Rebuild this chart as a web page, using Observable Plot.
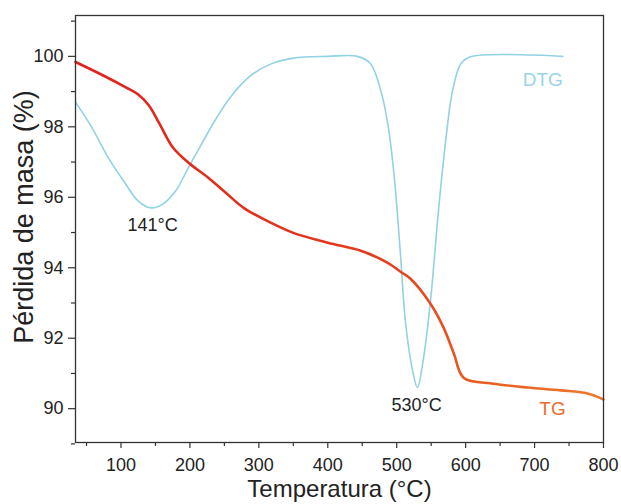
<!DOCTYPE html>
<html>
<head>
<meta charset="utf-8">
<script src="https://cdn.jsdelivr.net/npm/d3@7"></script>
<script src="https://cdn.jsdelivr.net/npm/@observablehq/plot@0.6"></script>
<style>
  html, body { margin: 0; padding: 0; background: #fff; }
</style>
</head>
<body>
<div id="chart"></div>
<script>
// TG curve (mass loss, %)
const tgTemp = [34, 75, 107, 124, 140, 155, 175, 198, 227, 252, 278, 317, 350, 400, 448, 487, 506, 520, 549, 568, 583, 597, 641, 690, 738, 777, 800];
const tgMass = [99.84, 99.45, 99.12, 98.93, 98.62, 98.12, 97.42, 96.98, 96.55, 96.13, 95.70, 95.28, 94.99, 94.71, 94.48, 94.14, 93.88, 93.69, 92.98, 92.30, 91.56, 90.88, 90.71, 90.60, 90.52, 90.43, 90.26];

// DTG curve (drawn in the same plotting frame)
const dtgTemp = [34, 58, 82, 107, 125, 143, 160, 179, 198, 218, 237, 259, 288, 317, 350, 400, 443, 462, 477, 487, 496, 505, 513, 523, 530, 539, 549, 561, 571, 581, 593, 607, 741];
const dtgValue = [98.7, 97.97, 97.11, 96.37, 95.89, 95.70, 95.80, 96.17, 96.85, 97.55, 98.2, 98.85, 99.45, 99.78, 99.95, 100.0, 100.0, 99.79, 99.02, 98.09, 96.67, 94.5, 92.41, 91.08, 90.6, 91.45, 93.06, 95.7, 97.6, 99.02, 99.79, 99.99, 100.0];

// Axis ticks
const xTicks = [100, 200, 300, 400, 500, 600, 700, 800];
const xMinor = [50, 150, 250, 350, 450, 550, 650, 750];
const yTicks = [90, 92, 94, 96, 98, 100];
const yMinor = [89, 91, 93, 95, 97, 99, 101];

// Annotations
const peakLabels = ["141°C", "530°C"];
const peakTemp = [146, 529];
const peakValue = [95.2, 90.09];
const seriesLabels = ["TG", "DTG"];
const seriesLabelTemp = [726, 712];
const seriesLabelValue = [90.0, 99.33];

const xTitle = "Temperatura (°C)";
const yTitle = "Pérdida de masa (%)";

const tg = tgTemp.map((t, i) => ({t, v: tgMass[i]}));
const dtg = dtgTemp.map((t, i) => ({t, v: dtgValue[i]}));
const peaks = peakLabels.map((s, i) => ({s, t: peakTemp[i], v: peakValue[i]}));
const series = seriesLabels.map((s, i) => ({s, t: seriesLabelTemp[i], v: seriesLabelValue[i]}));

const svg = Plot.plot({
  width: 621,
  height: 504,
  marginLeft: 75,
  marginRight: 18,
  marginTop: 15,
  marginBottom: 62,
  x: {domain: [34, 800]},
  y: {domain: [89.04, 101.16]},
  style: {fontFamily: "'Liberation Sans', Arial, sans-serif", fontSize: "18px", color: "#222", background: "#fff"},
  marks: [
    Plot.axisX(xTicks, {tickSize: 6, tickPadding: 10, label: null, stroke: "#333", strokeWidth: 1.2}),
    Plot.axisX(xMinor, {tickSize: 4, text: null, label: null, stroke: "#333", strokeWidth: 1.2}),
    Plot.axisY(yTicks, {tickSize: 7, tickPadding: 5, label: null, stroke: "#333", strokeWidth: 1.2}),
    Plot.axisY(yMinor, {tickSize: 4, text: null, label: null, stroke: "#333", strokeWidth: 1.2}),
    Plot.line(dtg, {x: "t", y: "v", stroke: "#91d2e4", strokeWidth: 1.6, curve: "catmull-rom"}),
    Plot.line(tg, {x: "t", y: "v", stroke: "url(#tgGrad)", strokeWidth: 2.6, curve: "catmull-rom"}),
    Plot.frame({stroke: "#333", strokeWidth: 1.3}),
    Plot.text(peaks, {x: "t", y: "v", text: "s", fontSize: 18, fill: "#222"}),
    Plot.text(series, {x: "t", y: "v", text: "s", fontSize: 19, fill: (d) => d.s === "TG" ? "#ec6a2c" : "#9ad5e6", fontWeight: (d) => d.s === "TG" ? "bold" : "normal"}),
    Plot.text([xTitle], {frameAnchor: "bottom", lineAnchor: "middle", textAnchor: "middle", dy: 47, fontSize: 24, fill: "#222"}),
    Plot.text([yTitle], {frameAnchor: "left", lineAnchor: "middle", textAnchor: "middle", dx: -51, dy: -12, rotate: -90, fontSize: 27, fill: "#222"})
  ]
});

const defs = document.createElementNS("http://www.w3.org/2000/svg", "defs");
defs.innerHTML = '<linearGradient id="tgGrad" x1="0" x2="1" y1="0" y2="0">' +
  '<stop offset="0" stop-color="#e2201b"/>' +
  '<stop offset="0.55" stop-color="#e23a1c"/>' +
  '<stop offset="0.75" stop-color="#e85a20"/>' +
  '<stop offset="1" stop-color="#ee7a2c"/></linearGradient>';
svg.insertBefore(defs, svg.firstChild);

document.getElementById("chart").appendChild(svg);
</script>
</body>
</html>
